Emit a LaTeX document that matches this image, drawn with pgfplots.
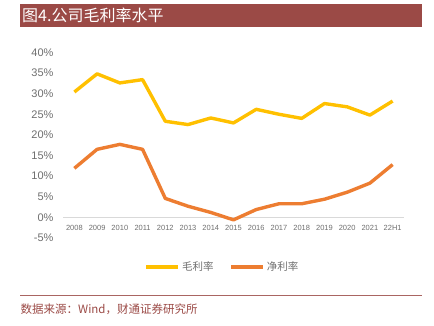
\documentclass[border=0pt]{standalone}
\usepackage{fontspec}
\setmainfont{Liberation Sans}
\newfontfamily\cjk{Noto Sans CJK SC}
\usepackage{pgfplots}
\pgfplotsset{compat=1.18}
\definecolor{titlered}{HTML}{9B4A46}
\definecolor{gold}{HTML}{FFC000}
\definecolor{orangeline}{HTML}{ED7D31}
\definecolor{ticktext}{HTML}{6E6E6E}
\definecolor{zeroline}{HTML}{D9D9D9}
\begin{document}
\begin{tikzpicture}
\path[use as bounding box] (0pt,0pt) rectangle (434pt,326pt);
\fill[titlered] (20pt,299pt) rectangle (422pt,322pt);
\node[anchor=west,text=white,inner sep=0pt,font=\cjk\fontsize{16}{16}\selectfont] at (22pt,310.5pt) {图4.公司毛利率水平};
\draw[titlered!85!white, line width=0.7pt] (20pt,30.7pt) -- (422pt,30.7pt);
\node[anchor=west,text=titlered,inner sep=0pt,font=\cjk\fontsize{11.5}{11.5}\selectfont] at (20.5pt,17pt) {数据来源：Wind，财通证券研究所};
\begin{axis}[
  at={(63pt,88pt)}, anchor=south west,
  scale only axis, width=341pt, height=185.6pt,
  xmin=-0.5, xmax=14.5, ymin=-5, ymax=40,
  axis line style={draw=none},
  major tick length=0pt,
  xtick={0,...,14},
  xticklabels={2008,2009,2010,2011,2012,2013,2014,2015,2016,2017,2018,2019,2020,2021,22H1},
  ytick={-5,0,5,10,15,20,25,30,35,40},
  yticklabel={\pgfmathprintnumber{\tick}\%},
  /pgf/number format/assume math mode=true,
  xticklabel style={font=\fontsize{7.5}{7.5}\selectfont, text=ticktext, yshift=16pt},
  yticklabel style={font=\fontsize{11}{11}\selectfont, text=ticktext, xshift=-6pt},
  legend columns=2,
  legend style={draw=none, fill=none, at={(axis description cs:0.468,-0.156)}, anchor=center,
    font=\cjk\fontsize{10.5}{10.5}\selectfont, text=ticktext,
    /tikz/every even column/.append style={column sep=14pt}},
  legend image code/.code={\draw[#1] (0pt,0pt) -- (32pt,0pt);},
  clip=false,
]
\draw[zeroline, line width=0.9pt] (axis cs:-0.5,0) -- (axis cs:14.5,0);
\addplot[gold, line width=3.4pt, line join=round] coordinates {
(0,30.4) (1,34.8) (2,32.6) (3,33.4) (4,23.3) (5,22.5) (6,24.1) (7,22.9)
(8,26.2) (9,25.0) (10,24.0) (11,27.6) (12,26.8) (13,24.8) (14,28.2)};
\addlegendentry{毛利率}
\addplot[orangeline, line width=3.4pt, line join=round] coordinates {
(0,11.9) (1,16.5) (2,17.7) (3,16.5) (4,4.6) (5,2.7) (6,1.2) (7,-0.6)
(8,1.9) (9,3.3) (10,3.3) (11,4.4) (12,6.1) (13,8.3) (14,12.8)};
\addlegendentry{净利率}
\end{axis}
\end{tikzpicture}
\end{document}
